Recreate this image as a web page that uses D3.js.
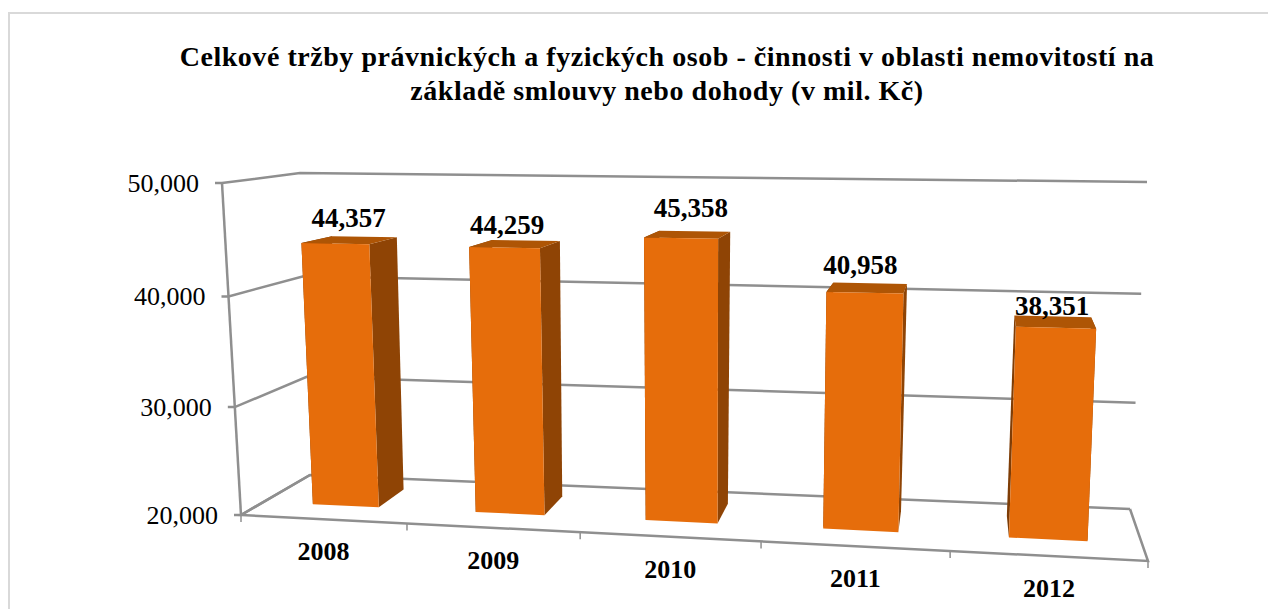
<!DOCTYPE html>
<html>
<head>
<meta charset="utf-8">
<script src="https://d3js.org/d3.v7.min.js"></script>
<style>
html, body { margin: 0; padding: 0; background: #fff; overflow: hidden; }
text { font-family: "Liberation Serif", serif; fill: #000; }
</style>
</head>
<body>
<script>
var w = 1268;
var h = 609;

var titleLines = ["Celkové tržby právnických a fyzických osob - činnosti v oblasti nemovitostí na",
                  "základě smlouvy nebo dohody (v mil. Kč)"];
var years = ["2008", "2009", "2010", "2011", "2012"];
var sales = [44357, 44259, 45358, 40958, 38351];
var yTicks = [20000, 30000, 40000, 50000];

// hand placed value labels, the original chart has them dragged around
var labelShiftX = [-1, -8, 3, -7, -2];
var labelShiftY = [-10, -7, -14, -9, -1];

// box corners of the 3d plot on screen, [x, y]
var frontLeftBottom = [241, 515], frontRightBottom = [1148, 561];
var backLeftBottom = [310, 475], backRightBottom = [1130, 509];
var frontLeftTop = [222, 183], frontRightTop = [1164, 193];
var backLeftTop = [300, 173], backRightTop = [1147, 182];

var xScale = d3.scaleBand() //category position, 0..1 across the box
               .domain(years)
               .range([0.003, 1.003])
               .paddingInner(0.59)
               .paddingOuter(0.295);

var yScale = d3.scaleLinear() //value to 0..1 height of the box
               .domain([20000, 50000])
               .range([0, 1]);

var kx = 0.896, ky = 0.963; // perspective squeeze

function squeeze(t, k) { return k * t / (1 + (k - 1) * t); }

function mix(a, b, t) { return [a[0] + (b[0] - a[0]) * t, a[1] + (b[1] - a[1]) * t]; }

// u across, depth front to back, v up
function project(u, depth, v) {
    var fu = squeeze(u, kx), fv = squeeze(v, ky);
    var bottom = mix(mix(frontLeftBottom, frontRightBottom, fu), mix(backLeftBottom, backRightBottom, fu), depth);
    var top = mix(mix(frontLeftTop, frontRightTop, fu), mix(backLeftTop, backRightTop, fu), depth);
    return mix(bottom, top, fv);
}

var line = d3.line();
var depthFront = 0.33, depthBack = 0.76;

var svg = d3.select("body")
            .append("svg")
            .attr("width", w)
            .attr("height", h)
            .style("display", "block");

// chart border
svg.append("path")
   .attr("d", "M9," + h + "V13H" + w)
   .attr("fill", "none")
   .attr("stroke", "#d9d9d9")
   .attr("stroke-width", 2);

// title
svg.selectAll(".title")
   .data(titleLines)
   .enter()
   .append("text")
   .attr("class", "title")
   .attr("x", 667)
   .attr("y", function(d, i) { return 66 + i * 34; })
   .attr("text-anchor", "middle")
   .attr("font-size", 28)
   .attr("letter-spacing", 0.54)
   .attr("font-weight", "bold")
   .text(function(d) { return d; });

var gridColor = "#8f8f8f";

// gridlines on the side wall and the back wall
svg.selectAll(".grid")
   .data(yTicks)
   .enter()
   .append("path")
   .attr("class", "grid")
   .attr("fill", "none")
   .attr("stroke", gridColor)
   .attr("stroke-width", 2.5)
   .attr("d", function(d) {
       var v = yScale(d);
       var start = project(0, 0, v);
       return line([[start[0] - 7, start[1]], start, project(0, 1, v), project(1, 1, v)]);
   });

// floor front and right edge, value axis
var axisPaths = [
    [project(0, 1, 0), project(0, 0, 0), project(1, 0, 0), project(1, 1, 0)],
    [project(0, 0, 0), project(0, 0, 1)]
];
svg.selectAll(".axis")
   .data(axisPaths)
   .enter()
   .append("path")
   .attr("class", "axis")
   .attr("fill", "none")
   .attr("stroke", gridColor)
   .attr("stroke-width", 2.5)
   .attr("d", function(d) { return line(d); });

// ticks under the floor
svg.selectAll(".xtick")
   .data(d3.range(years.length + 1))
   .enter()
   .append("path")
   .attr("class", "xtick")
   .attr("fill", "none")
   .attr("stroke", gridColor)
   .attr("stroke-width", 1.5)
   .attr("d", function(i) {
       var p = project(i / years.length, 0, 0);
       return line([p, [p[0], p[1] + 7]]);
   });

// bars, sides first so the front covers them
var bars = svg.selectAll(".bar")
              .data(years)
              .enter()
              .append("g")
              .attr("class", "bar");

function face(d, i, corners) {
    return line(corners.map(function(c) {
        var u = xScale(d) + (c[0] ? xScale.bandwidth() : 0);
        return project(u, c[1] ? depthBack : depthFront, c[2] ? yScale(sales[i]) : 0);
    })) + "Z";
}

bars.append("path") // left side
    .attr("fill", "#7f3d06")
    .attr("d", function(d, i) { return face(d, i, [[0,0,0],[0,1,0],[0,1,1],[0,0,1]]); });
bars.append("path") // right side
    .attr("fill", "#8f4405")
    .attr("d", function(d, i) { return face(d, i, [[1,0,0],[1,1,0],[1,1,1],[1,0,1]]); });
bars.append("path") // top
    .attr("fill", "#ae5505")
    .attr("d", function(d, i) { return face(d, i, [[0,0,1],[1,0,1],[1,1,1],[0,1,1]]); });
bars.append("path") // front
    .attr("fill", "#e66d0b")
    .attr("d", function(d, i) { return face(d, i, [[0,0,0],[1,0,0],[1,0,1],[0,0,1]]); });

// value labels above each bar
svg.selectAll(".value")
   .data(sales)
   .enter()
   .append("text")
   .attr("class", "value")
   .attr("text-anchor", "middle")
   .attr("font-size", 27)
   .attr("font-weight", "bold")
   .attr("x", function(d, i) {
       var u = xScale(years[i]) + xScale.bandwidth() / 2;
       return (project(u, depthFront, yScale(d))[0] + project(u, depthBack, yScale(d))[0]) / 2 + labelShiftX[i];
   })
   .attr("y", function(d, i) {
       var u = xScale(years[i]) + xScale.bandwidth() / 2;
       return project(u, depthBack, yScale(d))[1] + labelShiftY[i];
   })
   .text(d3.format(","));

// y tick labels
svg.selectAll(".ylabel")
   .data(yTicks)
   .enter()
   .append("text")
   .attr("class", "ylabel")
   .attr("text-anchor", "end")
   .attr("font-size", 26)
   .attr("x", function(d) { return project(0, 0, yScale(d))[0] - 23; })
   .attr("y", function(d) { return project(0, 0, yScale(d))[1] + 9; })
   .text(d3.format(","));

// category labels
svg.selectAll(".xlabel")
   .data(years)
   .enter()
   .append("text")
   .attr("class", "xlabel")
   .attr("text-anchor", "middle")
   .attr("font-size", 26)
   .attr("font-weight", "bold")
   .attr("x", function(d) { return project(xScale(d) + xScale.bandwidth() / 2, 0, 0)[0] - 2; })
   .attr("y", function(d) { return project(xScale(d) + xScale.bandwidth() / 2, 0, 0)[1] + 41; })
   .text(function(d) { return d; });
</script>
</body>
</html>
